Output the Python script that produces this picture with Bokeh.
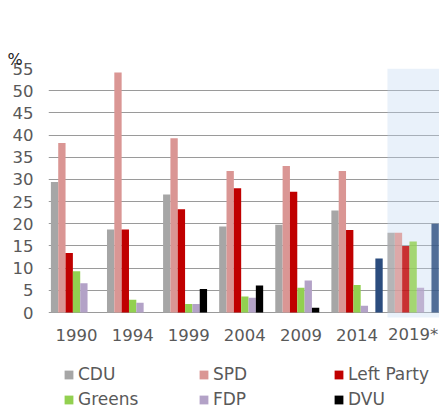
import math
from bokeh.plotting import figure
from bokeh.models import (ColumnDataSource, Range1d, FixedTicker, BoxAnnotation,
                          Legend, LegendItem, Title)
from bokeh.core.properties import value
from bokeh.transform import dodge
from bokeh.embed import file_html
from bokeh.resources import INLINE

# ---- data ----
years = ["1990", "1994", "1999", "2004", "2009", "2014", "2019*"]
cdu = [29.4, 18.7, 26.6, 19.4, 19.8, 23.0, 18.0]
spd = [38.2, 54.1, 39.3, 31.9, 33.0, 31.9, 18.0]
left_party = [13.4, 18.7, 23.3, 28.0, 27.2, 18.6, 15.0]
greens = [9.3, 2.9, 1.9, 3.6, 5.6, 6.2, 16.0]
fdp = [6.6, 2.2, 1.9, 3.3, 7.2, 1.5, 5.6]
dvu = [math.nan, math.nan, 5.3, 6.1, 1.1, math.nan, math.nan]
afd = [math.nan, math.nan, math.nan, math.nan, math.nan, 12.2, 20.0]
party_names = ["CDU", "SPD", "Left Party", "Greens", "FDP", "DVU", "AfD"]
party_values = [cdu, spd, left_party, greens, fdp, dvu, afd]
party_colors = ["#a6a6a6", "#da9694", "#c00000", "#92d050", "#b3a2c7", "#000000", "#2b4c7e"]
legend_names = ["CDU", "SPD", "Left Party", "Greens", "FDP", "DVU"]
y_ticks = [0, 5, 10, 15, 20, 25, 30, 35, 40, 45, 50, 55]
highlight_index = 6  # projected year

FONT = "DejaVu Sans"
TXT = "#595959"

p = figure(width=439, height=405, output_backend="svg", toolbar_location=None,
           x_range=Range1d(0, 6.97), y_range=Range1d(-20.96, 55),
           min_border_left=48, min_border_right=0, min_border_top=68,
           min_border_bottom=0)
p.outline_line_color = None
p.background_fill_color = "white"

bw = 0.1307
pos = [i + 0.5 for i in range(len(years))]
alphas = [0.8 if i == highlight_index else 1.0 for i in range(len(years))]

# highlighted (projection) region
box = BoxAnnotation(left=pos[highlight_index] - 3.5 * bw, bottom=-1.13,
                    fill_color="#c0d7f1", fill_alpha=0.35, line_color=None,
                    level="underlay")
p.add_layout(box)

renderers = {}
for k, (name, vals, col) in enumerate(zip(party_names, party_values, party_colors)):
    src = ColumnDataSource(dict(x=pos, top=vals, a=alphas))
    r = p.vbar(x=dodge("x", (k - 3) * bw), top="top", bottom=0, width=bw, source=src,
               fill_color=col, fill_alpha="a", line_color=None)
    renderers[name] = r

# category labels under the groups
lab_src = ColumnDataSource(dict(x=pos, y=[0] * len(pos), t=years))
p.text(x="x", y="y", text="t", source=lab_src, y_offset=22, text_align="center",
       text_baseline="alphabetic", text_font=value(FONT), text_font_size="16.5px",
       text_color=TXT)

# axes
p.xaxis.visible = False
ya = p.yaxis[0]
ya.ticker = FixedTicker(ticks=y_ticks)
ya.axis_line_color = None
ya.major_tick_line_color = None
ya.minor_tick_line_color = None
ya.major_tick_out = 0
ya.major_tick_in = 0
ya.major_label_text_font = FONT
ya.major_label_text_font_size = "16.5px"
ya.major_label_text_color = TXT
ya.major_label_standoff = 15

p.xgrid.grid_line_color = None
p.ygrid.ticker = FixedTicker(ticks=y_ticks)
p.ygrid.grid_line_color = "#9a9a9a"
p.ygrid.grid_line_width = 1.2

# invisible spacer title next to the frame, "%" unit label above it
p.title = Title(text=".", text_font_size="1px", text_alpha=0, standoff=34)
p.add_layout(Title(text="%", align="left", offset=-41, text_font=FONT,
                   text_font_size="16px", text_color="#222222",
                   text_font_style="normal", vertical_align="bottom", standoff=0),
             "above")

# legend (2 rows x 3 columns)
lg = Legend(items=[LegendItem(label=n, renderers=[renderers[n]]) for n in legend_names],
            orientation="horizontal", ncols=3, location=(15, -4),
            glyph_width=11, glyph_height=11, label_standoff=4, label_width=115,
            label_height=20, spacing=5, padding=0, margin=0,
            border_line_color=None, background_fill_alpha=0,
            label_text_font=FONT, label_text_font_size="17px",
            label_text_color=TXT)
p.add_layout(lg, "center")

open("out.html", "w").write(file_html(p, INLINE))
